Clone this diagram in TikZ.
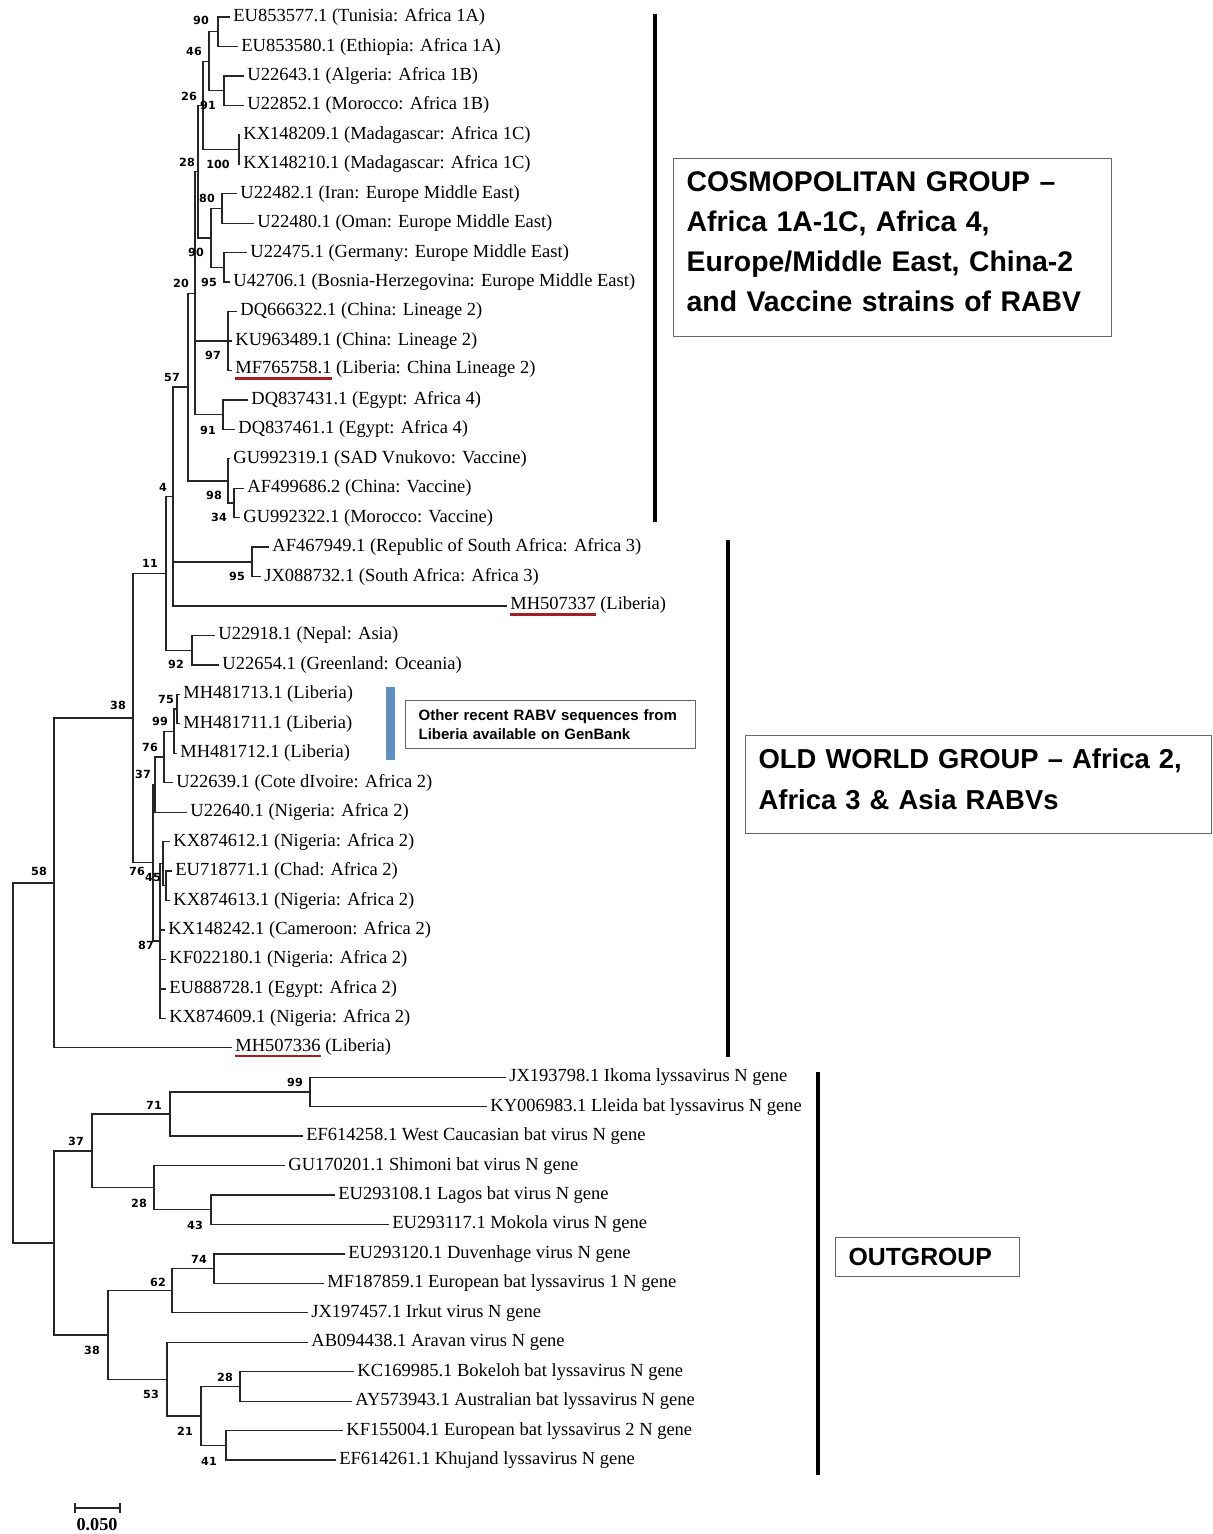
\documentclass[tikz,border=0pt]{standalone}
\usepackage{fontspec}
\setmainfont{Liberation Serif}
\newfontfamily\bootfont{DejaVu Sans}
\newfontfamily\boxfont{Liberation Sans}
\definecolor{ulred}{RGB}{165,30,35}
\definecolor{barblue}{RGB}{95,145,190}
\newcommand{\redul}[1]{\setbox0\hbox{#1}\rlap{\textcolor{ulred}{\rule[-3.2pt]{\wd0}{1.3pt}}}\box0\relax}
\begin{document}
\begin{tikzpicture}[x=0.5pt,y=-0.5pt,
    leaf/.style={anchor=west,inner sep=1.5pt,font=\fontsize{9.25}{11}\selectfont},
    boot/.style={inner sep=0pt,font=\bootfont\bfseries\fontsize{5.6}{6}\selectfont},
    br/.style={line width=0.65pt,draw=black!85},
    grp/.style={line width=2pt},
    infobox/.style={draw=black!60,line width=0.6pt,align=left,anchor=north west,inner xsep=6.5pt,inner ysep=0pt,font=\boxfont\bfseries}]
    \useasboundingbox (0,0) rectangle (1213,1534);

    % leaves
    \node[leaf] (l1) at (230,17) {EU853577.1 (Tunisia: Africa 1A)};
    \node[leaf] (l2) at (238,46.5) {EU853580.1 (Ethiopia: Africa 1A)};
    \node[leaf] (l3) at (244,75.9) {U22643.1 (Algeria: Africa 1B)};
    \node[leaf] (l4) at (244,105.4) {U22852.1 (Morocco: Africa 1B)};
    \node[leaf] (l5) at (240,134.8) {KX148209.1 (Madagascar: Africa 1C)};
    \node[leaf] (l6) at (240,164.3) {KX148210.1 (Madagascar: Africa 1C)};
    \node[leaf] (l7) at (237,193.7) {U22482.1 (Iran: Europe Middle East)};
    \node[leaf] (l8) at (254,223.2) {U22480.1 (Oman: Europe Middle East)};
    \node[leaf] (l9) at (247,252.6) {U22475.1 (Germany: Europe Middle East)};
    \node[leaf] (l10) at (230,282.1) {U42706.1 (Bosnia-Herzegovina: Europe Middle East)};
    \node[leaf] (l11) at (237,311.5) {DQ666322.1 (China: Lineage 2)};
    \node[leaf] (l12) at (232,341) {KU963489.1 (China: Lineage 2)};
    \node[leaf] (l13) at (232,370.4) {\redul{MF765758.1} (Liberia: China Lineage 2)};
    \node[leaf] (l14) at (248,399.9) {DQ837431.1 (Egypt: Africa 4)};
    \node[leaf] (l15) at (235,429.3) {DQ837461.1 (Egypt: Africa 4)};
    \node[leaf] (l16) at (230,458.8) {GU992319.1 (SAD Vnukovo: Vaccine)};
    \node[leaf] (l17) at (244,488.2) {AF499686.2 (China: Vaccine)};
    \node[leaf] (l18) at (240,517.7) {GU992322.1 (Morocco: Vaccine)};
    \node[leaf] (l19) at (269,547.1) {AF467949.1 (Republic of South Africa: Africa 3)};
    \node[leaf] (l20) at (261,576.6) {JX088732.1 (South Africa: Africa 3)};
    \node[leaf] (l21) at (507,606) {\redul{MH507337} (Liberia)};
    \node[leaf] (l22) at (215,635.5) {U22918.1 (Nepal: Asia)};
    \node[leaf] (l23) at (219,664.9) {U22654.1 (Greenland: Oceania)};
    \node[leaf] (l24) at (180,694.4) {MH481713.1 (Liberia)};
    \node[leaf] (l25) at (180,723.8) {MH481711.1 (Liberia)};
    \node[leaf] (l26) at (177,753.3) {MH481712.1 (Liberia)};
    \node[leaf] (l27) at (173,782.7) {U22639.1 (Cote dIvoire: Africa 2)};
    \node[leaf] (l28) at (187,812.2) {U22640.1 (Nigeria: Africa 2)};
    \node[leaf] (l29) at (170,841.6) {KX874612.1 (Nigeria: Africa 2)};
    \node[leaf] (l30) at (172,871.1) {EU718771.1 (Chad: Africa 2)};
    \node[leaf] (l31) at (170,900.5) {KX874613.1 (Nigeria: Africa 2)};
    \node[leaf] (l32) at (165,930) {KX148242.1 (Cameroon: Africa 2)};
    \node[leaf] (l33) at (166,959.4) {KF022180.1 (Nigeria: Africa 2)};
    \node[leaf] (l34) at (166,988.9) {EU888728.1 (Egypt: Africa 2)};
    \node[leaf] (l35) at (166,1018.3) {KX874609.1 (Nigeria: Africa 2)};
    \node[leaf] (l36) at (232,1047.8) {\redul{MH507336} (Liberia)};
    \node[leaf] (l37) at (506,1077.2) {JX193798.1 Ikoma lyssavirus N gene};
    \node[leaf] (l38) at (487,1106.7) {KY006983.1 Lleida bat lyssavirus N gene};
    \node[leaf] (l39) at (303,1136.1) {EF614258.1 West Caucasian bat virus N gene};
    \node[leaf] (l40) at (285,1165.6) {GU170201.1 Shimoni bat virus N gene};
    \node[leaf] (l41) at (335,1195) {EU293108.1 Lagos bat virus N gene};
    \node[leaf] (l42) at (389,1224.5) {EU293117.1 Mokola virus N gene};
    \node[leaf] (l43) at (345,1253.9) {EU293120.1 Duvenhage virus N gene};
    \node[leaf] (l44) at (324,1283.4) {MF187859.1 European bat lyssavirus 1 N gene};
    \node[leaf] (l45) at (308,1312.8) {JX197457.1 Irkut virus N gene};
    \node[leaf] (l46) at (308,1342.3) {AB094438.1 Aravan virus N gene};
    \node[leaf] (l47) at (354,1371.7) {KC169985.1 Bokeloh bat lyssavirus N gene};
    \node[leaf] (l48) at (352,1401.2) {AY573943.1 Australian bat lyssavirus N gene};
    \node[leaf] (l49) at (343,1430.6) {KF155004.1 European bat lyssavirus 2 N gene};
    \node[leaf] (l50) at (336,1460.1) {EF614261.1 Khujand lyssavirus N gene};

    % inner nodes
    \coordinate (a1a) at (218,31.7);   \coordinate (a1b) at (224,90.6);
    \coordinate (a1) at (209,61.2);    \coordinate (a1c) at (239,149.5);
    \coordinate (afr1) at (203,105.4);
    \coordinate (eme1) at (222,208.5); \coordinate (eme2) at (224,267.4);
    \coordinate (eme) at (211,238);    \coordinate (c28) at (198,171.7);
    \coordinate (chn) at (228,341);    \coordinate (afr4) at (223,414.6);
    \coordinate (c20) at (195,293.2);
    \coordinate (vac2) at (234,503);   \coordinate (vac) at (228,480.9);
    \coordinate (c57) at (188,387);    \coordinate (afr3) at (252,561.9);
    \coordinate (c4) at (173,496.5);   \coordinate (asia) at (192,650.2);
    \coordinate (c11) at (166,573.3);
    \coordinate (lib75) at (177,709.1); \coordinate (lib99) at (174,731.2);
    \coordinate (lib76) at (164,757);   \coordinate (a37) at (155,784.6);
    \coordinate (a45s) at (166,885.8);  \coordinate (a45) at (163,863.7);
    \coordinate (a87) at (160,941);     \coordinate (a76) at (153,862.8);
    \coordinate (r38) at (133,718);     \coordinate (r58) at (54,882.9);
    \coordinate (o99) at (310,1092);    \coordinate (o71) at (170,1114);
    \coordinate (o43) at (211,1209.8);  \coordinate (o28) at (154,1187.7);
    \coordinate (o37) at (92,1150.9);
    \coordinate (o74) at (214,1268.7);  \coordinate (o62) at (172,1290.8);
    \coordinate (o28b) at (240,1386.5); \coordinate (o41) at (226,1445.4);
    \coordinate (o21) at (201,1416);    \coordinate (o53) at (167,1379.2);
    \coordinate (o38) at (108,1335);    \coordinate (outg) at (54,1243);
    \coordinate (root) at (13,1063);

    % branches
    \draw[br] (l1) -| (a1a) |- (l2); \draw[br] (l3) -| (a1b) |- (l4);
    \draw[br] (a1a) -| (a1) |- (a1b); \draw[br] (l5) -| (a1c) |- (l6);
    \draw[br] (a1) -| (afr1) |- (a1c);
    \draw[br] (l7) -| (eme1) |- (l8); \draw[br] (l9) -| (eme2) |- (l10);
    \draw[br] (eme1) -| (eme) |- (eme2); \draw[br] (afr1) -| (c28) |- (eme);
    \draw[br] (l11) -| (chn) |- (l13); \draw[br] (chn) -- (l12);
    \draw[br] (l14) -| (afr4) |- (l15);
    \draw[br] (c28) -| (c20) |- (afr4); \draw[br] (c20) |- (chn);
    \draw[br] (l17) -| (vac2) |- (l18); \draw[br] (l16) -| (vac) |- (vac2);
    \draw[br] (c20) -| (c57) |- (vac);
    \draw[br] (l19) -| (afr3) |- (l20);
    \draw[br] (c57) -| (c4) |- (l21); \draw[br] (c4) |- (afr3);
    \draw[br] (l22) -| (asia) |- (l23);
    \draw[br] (c4) -| (c11) |- (asia);
    \draw[br] (l24) -| (lib75) |- (l25); \draw[br] (lib75) -| (lib99) |- (l26);
    \draw[br] (lib99) -| (lib76) |- (l27); \draw[br] (lib76) -| (a37) |- (l28);
    \draw[br] (l30) -| (a45s) |- (l31); \draw[br] (l29) -| (a45) |- (a45s);
    \draw[br] (a45) -| (a87) |- (l35);
    \draw[br] (a87) |- (l32); \draw[br] (a87) |- (l33); \draw[br] (a87) |- (l34);
    \draw[br] (a37) -| (a76) |- (a87);
    \draw[br] (c11) -| (r38) |- (a76);
    \draw[br] (r38) -| (r58) |- (l36);
    \draw[br] (l37) -| (o99) |- (l38); \draw[br] (o99) -| (o71) |- (l39);
    \draw[br] (l41) -| (o43) |- (l42); \draw[br] (l40) -| (o28) |- (o43);
    \draw[br] (o71) -| (o37) |- (o28);
    \draw[br] (l43) -| (o74) |- (l44); \draw[br] (o74) -| (o62) |- (l45);
    \draw[br] (l47) -| (o28b) |- (l48); \draw[br] (l49) -| (o41) |- (l50);
    \draw[br] (o28b) -| (o21) |- (o41); \draw[br] (l46) -| (o53) |- (o21);
    \draw[br] (o62) -| (o38) |- (o53);
    \draw[br] (o37) -| (outg) |- (o38);
    \draw[br] (r58) -| (root) |- (outg);

    % bootstrap values
    \node[boot] (b1) at (201,20) {90};   \node[boot] (b2) at (194,51) {46};
    \node[boot] (b3) at (189,96) {26};   \node[boot] (b4) at (208,105) {91};
    \node[boot] (b5) at (218,164) {100}; \node[boot] (b6) at (187,162) {28};
    \node[boot] (b7) at (207,198) {80};  \node[boot] (b8) at (196,252) {90};
    \node[boot] (b9) at (209,282) {95};  \node[boot] (b10) at (181,283) {20};
    \node[boot] (b11) at (213,355) {97}; \node[boot] (b12) at (172,377) {57};
    \node[boot] (b13) at (208,430) {91}; \node[boot] (b14) at (163,487) {4};
    \node[boot] (b15) at (214,495) {98}; \node[boot] (b16) at (219,517) {34};
    \node[boot] (b17) at (150,563) {11}; \node[boot] (b18) at (237,576) {95};
    \node[boot] (b19) at (176,664) {92}; \node[boot] (b20) at (118,705) {38};
    \node[boot] (b21) at (166,699) {75}; \node[boot] (b22) at (160,721) {99};
    \node[boot] (b23) at (150,747) {76}; \node[boot] (b24) at (143,774) {37};
    \node[boot] (b25) at (137,871) {76}; \node[boot] (b26) at (153,877) {45};
    \node[boot] (b27) at (146,945) {87}; \node[boot] (b28) at (39,871) {58};
    \node[boot] (b29) at (295,1082) {99}; \node[boot] (b30) at (154,1105) {71};
    \node[boot] (b31) at (76,1141) {37};  \node[boot] (b32) at (139,1203) {28};
    \node[boot] (b33) at (195,1225) {43}; \node[boot] (b34) at (199,1259) {74};
    \node[boot] (b35) at (158,1282) {62}; \node[boot] (b36) at (92,1350) {38};
    \node[boot] (b37) at (151,1394) {53}; \node[boot] (b38) at (225,1377) {28};
    \node[boot] (b39) at (185,1431) {21}; \node[boot] (b40) at (209,1461) {41};

    % group bars and boxes
    \coordinate (g1a) at (655,14);   \coordinate (g1b) at (655,522);
    \coordinate (g2a) at (728,540);  \coordinate (g2b) at (728,1057);
    \coordinate (g3a) at (818,1072); \coordinate (g3b) at (818,1475);
    \draw[grp] (g1a) -- (g1b); \draw[grp] (g2a) -- (g2b); \draw[grp] (g3a) -- (g3b);
    \fill[barblue] (386,687) rectangle (395,760);

    \node[infobox,minimum width=219pt,minimum height=89pt,text width=206pt,
        font=\boxfont\bfseries\fontsize{14.2}{20}\selectfont] (cosmo) at (673,158)
        {COSMOPOLITAN GROUP –\\Africa 1A-1C, Africa 4,\\Europe/Middle East, China-2\\and Vaccine strains of RABV\rule[-6pt]{0pt}{1pt}};
    \node[infobox,minimum width=233pt,minimum height=49pt,text width=220pt,
        font=\boxfont\bfseries\fontsize{13.7}{20.5}\selectfont] (oldw) at (745,735)
        {OLD WORLD GROUP – Africa 2,\\Africa 3 \& Asia RABVs\rule[-6pt]{0pt}{1pt}};
    \node[infobox,minimum width=92pt,minimum height=19.5pt,text width=79pt,
        font=\boxfont\bfseries\fontsize{12.4}{14}\selectfont] (outbox) at (835,1237)
        {OUTGROUP};
    \node[infobox,minimum width=145pt,minimum height=24pt,text width=132pt,
        font=\boxfont\bfseries\fontsize{7.5}{9.5}\selectfont] (recent) at (405,700)
        {Other recent RABV sequences from\\Liberia available on GenBank};

    % scale bar
    \coordinate (s1) at (75,1508); \coordinate (s2) at (120,1508);
    \draw[br] (s1) -- (s2);
    \draw[br] ([yshift=-2.5pt]s1) -- ([yshift=2.5pt]s1);
    \draw[br] ([yshift=-2.5pt]s2) -- ([yshift=2.5pt]s2);
    \node[font=\bfseries\fontsize{9.1}{10}\selectfont,inner sep=0pt] (sl) at (97,1525) {0.050};
\end{tikzpicture}
\end{document}
